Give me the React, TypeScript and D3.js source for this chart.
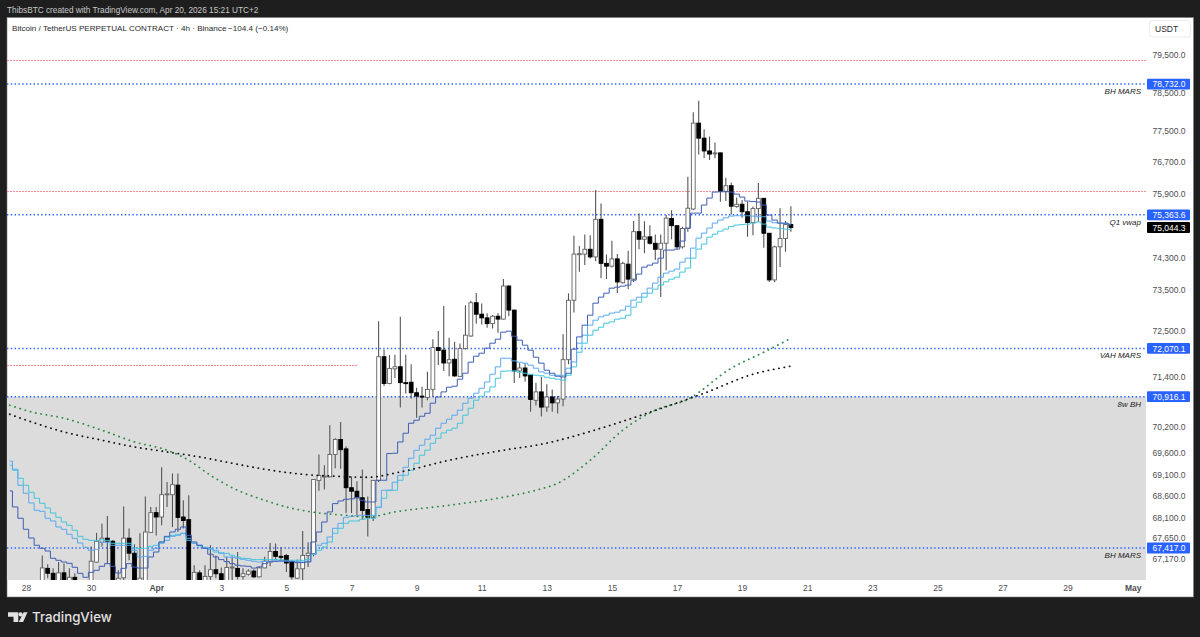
import React, { useEffect, useRef } from 'react';
import * as d3 from 'd3';

const W = 1200;
const H = 637;
const FONT = '"Liberation Sans", Arial, sans-serif';

// candles run from index 3 to 141, 4h each, index 0 is Mar 28 00:00
const FIRST_CANDLE = 3;
const FIRST_STEP = -3;

const opens = [
  66580, 66960, 66850, 66580, 66860, 66510, 66760, 66470, 66520,
  66580, 67100, 67550, 67640, 67570, 66580, 66750, 67640, 67300, 66500,
  66690, 67770, 68220, 68120, 68630, 68630, 68850, 68120, 68060, 66600,
  66860, 66580, 66780, 66930, 66840, 66580, 66970, 66960, 66780, 66830,
  66900, 66770, 66970, 67120, 67340, 67230, 67250, 67100, 66740, 66950,
  67250, 67290, 68960, 69050, 69040, 69560, 69910, 69690, 68790, 68710,
  68560, 68290, 68110, 68960, 71870, 71230, 71580, 71630, 71250, 71260,
  71010, 70930, 70900, 71090, 72090, 72030, 71720, 71810, 71400, 72070,
  72370, 73180, 72900, 72810, 72670, 72850, 72780, 73590, 73000, 71530,
  71600, 71430, 70830, 71030, 70670, 70910, 70770, 70860, 71800, 73240,
  74380, 74380, 74500, 74310, 75250, 74150, 74080, 74260, 73670, 74130,
  73760, 74940, 74750, 74810, 74650, 74500, 74650, 75270, 75090, 74560,
  75020, 75510, 77710, 77320, 76990, 76920, 76940, 75960, 76100, 75570,
  75630, 75440, 75170, 75520, 75780, 74900, 73740, 74560, 74770, 75120,
];
const closes = [
  66970, 66850, 66650, 66860, 66580, 66760, 66470, 66520, 66560,
  67120, 67570, 67640, 67570, 66560, 66740, 67640, 67300, 66600, 66740,
  67780, 68220, 68120, 68630, 68650, 68860, 68110, 68040, 66560, 66870,
  66580, 66780, 66930, 66840, 66580, 66980, 66990, 66780, 66840, 66900,
  66770, 66970, 67120, 67340, 67230, 67220, 67080, 66770, 66950, 67250,
  67300, 68980, 69070, 69060, 69560, 69910, 69670, 68790, 68710, 68560,
  68270, 68110, 68960, 71870, 71230, 71590, 71630, 71250, 71240, 71010,
  70930, 70920, 71090, 72090, 72020, 71720, 71800, 71410, 72070, 72390,
  73180, 72900, 72810, 72670, 72850, 72780, 73590, 73000, 71530, 71600,
  71410, 70850, 71030, 70670, 70910, 70770, 70860, 71800, 73240, 74380,
  74390, 74500, 74310, 75250, 74150, 74080, 74260, 73690, 74150, 73760,
  74940, 74750, 74810, 74650, 74500, 74650, 75280, 75090, 74560, 75020,
  75530, 77710, 77320, 76990, 76910, 76940, 75960, 76100, 75580, 75630,
  75440, 75170, 75520, 75780, 74900, 73740, 74560, 74770, 75120, 75044,
];
const highs = [
  67250, 67050, 66960, 67100, 67070, 66960, 66850, 66600, 66640,
  67450, 67760, 67970, 68140, 67600, 66920, 68360, 67860, 67500, 67750,
  68590, 68350, 68350, 69260, 68920, 69120, 69120, 68500, 68620, 67030,
  66920, 67030, 67480, 67250, 66980, 67220, 67230, 67330, 66960, 66940,
  66940, 67010, 67220, 67530, 67520, 67440, 67280, 67140, 67160, 67800,
  67550, 68990, 69560, 69310, 70240, 69940, 70320, 69750, 69050, 68940,
  69210, 68590, 68970, 72730, 72040, 71910, 71920, 72840, 71920, 71690,
  71130, 71150, 71510, 72290, 72490, 73100, 72330, 72230, 72190, 73120,
  73230, 73420, 73160, 72920, 72880, 72920, 73760, 73610, 73010, 71720,
  71720, 71440, 71250, 71390, 71210, 71090, 70930, 72410, 73410, 74840,
  74580, 74870, 74850, 75990, 75650, 74370, 74710, 74380, 74190, 74460,
  75210, 75400, 75200, 75100, 74870, 74870, 75360, 75480, 75100, 75060,
  76330, 77990, 78290, 77550, 77360, 77210, 76950, 76300, 76180, 75800,
  75740, 75690, 75570, 76170, 75790, 74905, 74590, 75530, 75210, 75580,
];
const lows = [
  66470, 66740, 66560, 66470, 66500, 66400, 66380, 66300, 66350,
  66480, 67090, 67450, 67070, 66480, 66500, 66670, 67140, 66500, 66450,
  66600, 67760, 67700, 67930, 68350, 67890, 67780, 67860, 66470, 66500,
  66500, 66500, 66650, 66740, 66500, 66500, 66690, 66710, 66710, 66800,
  66750, 66760, 66960, 67010, 67140, 67140, 66880, 66710, 66730, 66670,
  66990, 67230, 68720, 68750, 69030, 69240, 69230, 68210, 68210, 68160,
  68050, 67680, 68030, 68920, 71170, 71210, 71360, 70660, 70990, 70870,
  70420, 70660, 70830, 70910, 71670, 71530, 71400, 71390, 71390, 72040,
  72350, 72670, 72650, 72570, 72550, 72450, 72770, 72850, 71240, 71360,
  71280, 70560, 70710, 70450, 70560, 70560, 70520, 70690, 71690, 72940,
  73940, 74110, 74270, 74200, 73780, 73760, 74050, 73420, 73650, 73510,
  73690, 74500, 74400, 74620, 74230, 73320, 73980, 74750, 74500, 74520,
  74940, 75480, 76900, 76810, 76760, 76800, 75690, 75710, 75370, 75540,
  75290, 74810, 74850, 75190, 74540, 73690, 73680, 74060, 74440, 74940,
];

// step lines, one value per candle from index -3 to 141
const stepDark = [
  68716, 68349, 68091, 67841, 67643, 67479, 67411, 67350, 67186, 67141, 67103, 67073, 66984,
  66849, 66760, 66871, 66916, 67006, 67066, 67006, 66856, 66961, 67066, 66990, 66967,
  66967, 67215, 67327, 67553, 67681, 67779, 67841, 67893, 67704, 67553,
  67479, 67411, 67276, 67215, 67156, 67112, 67066, 67029, 67013, 67006,
  66967, 66990, 67066, 67103, 67118, 67125, 67125, 67112, 67089, 67089,
  67103, 67553, 67779, 68006, 68235, 68426, 68486, 68525, 68532, 68564,
  68502, 68463, 68463, 68962, 68962, 69581, 69588, 69851, 70055, 70290,
  70360, 70454, 70525, 70762, 70911, 71030, 71141, 71165, 71332, 71475,
  71739, 71883, 71955, 72076, 72197, 72293, 72463, 72487, 72366, 72269,
  72148, 72028, 71859, 71715, 71547, 71475, 71403, 71387, 71475, 72052,
  72349, 72633, 72876, 73169, 73316, 73414, 73537, 73562, 73587, 73612,
  73735, 73883, 74056, 74106, 74156, 74279, 74479, 74479, 74504, 74704,
  75030, 75406, 75406, 75609, 75786, 75938, 75946, 75946, 75938, 75887,
  75811, 75710, 75697, 75685, 75609, 75356, 75231, 75155, 75155, 75105,
];
const stepLight = [
  69402, 69216, 68847, 68663, 68440, 68273, 68250, 68091, 68029, 67893, 67841, 67727, 67636,
  67530, 67433, 67366, 67388, 67546, 67546, 67479, 67479, 67479, 67479, 67366, 67215,
  67231, 67366, 67411, 67524, 67591, 67681, 67704, 67749, 67636, 67524,
  67479, 67417, 67388, 67366, 67298, 67215, 67208, 67186, 67163, 67141,
  67118, 67103, 67118, 67118, 67125, 67125, 67125, 67118, 67107, 67103,
  67118, 67276, 67479, 67524, 67666, 67863, 67977, 68113, 68136, 68148,
  68159, 68159, 68159, 68342, 68732, 68732, 68916, 69077, 69263, 69471,
  69658, 69775, 69915, 70008, 70173, 70290, 70384, 70478, 70596, 70762,
  70880, 70998, 71117, 71267, 71451, 71627, 71835, 71835, 71770, 71739,
  71715, 71667, 71595, 71506, 71475, 71427, 71427, 71427, 71595, 71746,
  72197, 72390, 72633, 72754, 72835, 72876, 72925, 72949, 72998, 73096,
  73243, 73316, 73414, 73537, 73661, 73808, 73908, 73957, 74007, 74180,
  74279, 74529, 74778, 74903, 75030, 75155, 75231, 75288, 75331, 75339,
  75339, 75339, 75331, 75313, 75313, 75205, 75163, 75155, 75142, 75130,
];
const stepCyan = [
  69309, 69193, 69008, 68847, 68686, 68548, 68433, 68326, 68212, 68113, 68006, 67931, 67818,
  67681, 67614, 67591, 67591, 67602, 67591, 67524, 67524, 67524, 67524, 67417, 67404,
  67411, 67456, 67479, 67553, 67659, 67704, 67727, 67749, 67591, 67524,
  67463, 67433, 67404, 67327, 67309, 67298, 67253, 67215, 67186, 67179,
  67156, 67156, 67156, 67156, 67156, 67152, 67141, 67141, 67141, 67141,
  67163, 67276, 67366, 67440, 67553, 67749, 67863, 67977, 68029, 68029,
  68068, 68091, 68091, 68342, 68548, 68732, 68732, 68962, 69077, 69193,
  69355, 69541, 69658, 69821, 69938, 70062, 70126, 70173, 70290, 70478,
  70644, 70833, 70927, 71030, 71149, 71356, 71523, 71530, 71530, 71499,
  71475, 71451, 71427, 71415, 71380, 71356, 71332, 71308, 71427, 71627,
  71979, 72197, 72390, 72511, 72584, 72681, 72713, 72779, 72803, 72876,
  73071, 73194, 73316, 73414, 73512, 73612, 73693, 73759, 73808, 73933,
  74032, 74279, 74504, 74629, 74803, 74878, 74953, 75004, 75067, 75105,
  75117, 75130, 75155, 75180, 75130, 75055, 75030, 75022, 75004, 74997,
];

// dotted averages, read at a few candles
const greenIdx = [-3, 1, 7, 14, 20, 26, 30, 34, 39, 44, 48, 54, 59, 63, 68, 78, 88, 94, 98, 104, 110, 116, 122, 130, 136, 141];
const greenVals = [70715, 70556, 70407, 70126, 69851, 69658, 69425, 69077, 68732, 68502, 68349, 68212, 68159, 68120, 68235, 68388, 68571, 68732, 68893, 69425, 70126, 70596, 70856, 71595, 71979, 72317];
const blackIdx = [-3, 1, 7, 14, 20, 26, 32, 38, 44, 51, 57, 63, 69, 78, 88, 95, 106, 115, 125, 134, 141];
const blackVals = [70502, 70321, 70085, 69891, 69735, 69618, 69502, 69355, 69216, 69100, 69054, 69031, 69154, 69425, 69658, 69798, 70173, 70549, 70998, 71451, 71643];

const priceTicks = [79500, 78500, 77500, 76700, 75900, 74300, 73500, 72500, 71400, 70200, 69600, 69100, 68600, 68100, 67650, 67170];
const dayTicks = [0, 2, 4, 6, 8, 10, 12, 14, 16, 18, 20, 22, 24, 26, 28, 30, 32, 34];

const blueLevels = [78732.0, 75363.6, 72070.1, 70916.1, 67417.0];
const redLevels = [79365, 75958];
const redShortLevel = 71675;
const redShortEnd = 61;
const zoneTop = 70916.1;
const lastPrice = 75044.3;

const notes = [
  { price: 78732.0, text: 'BH MARS' },
  { price: 75363.6, text: 'Q1 vwap' },
  { price: 72070.1, text: 'VAH MARS' },
  { price: 70916.1, text: '8w BH' },
  { price: 67417.0, text: 'BH MARS' },
];

const App: React.FC = () => {
  const svgRef = useRef<SVGSVGElement>(null);

  useEffect(() => {
    if (!svgRef.current) return;
    const svg = d3.select(svgRef.current);
    svg.selectAll('*').remove();

    const plot = { left: 7, right: 1146, top: 17.5, bottom: 580 };
    const frameRight = 1193.5;
    const frameBottom = 597;

    const start = Date.UTC(2026, 2, 28);
    const FOUR_H = 4 * 3600 * 1000;
    const DAY = 24 * 3600 * 1000;
    const t = (i: number) => new Date(start + i * FOUR_H);

    const x = d3.scaleUtc()
      .domain([t(0), t(204)])
      .range([26, 1132.7]);
    const y = d3.scaleLog()
      .domain([67170, 79500])
      .range([559, 55]);

    // frame
    svg.append('rect').attr('width', W).attr('height', H).attr('fill', '#1e1e1e');
    svg.append('rect')
      .attr('x', plot.left).attr('y', plot.top)
      .attr('width', frameRight - plot.left).attr('height', frameBottom - plot.top)
      .attr('fill', '#ffffff')
      .attr('stroke', '#7a7a7a')
      .attr('stroke-width', 0.6);

    svg.append('text')
      .attr('x', 7).attr('y', 13.2)
      .attr('fill', '#c9c9c9').attr('font-size', 8.25)
      .text('ThibsBTC created with TradingView.com, Apr 20, 2026 15:21 UTC+2');

    const defs = svg.append('defs');
    defs.append('clipPath').attr('id', 'plot-clip').append('rect')
      .attr('x', plot.left).attr('y', plot.top)
      .attr('width', plot.right - plot.left).attr('height', plot.bottom - plot.top);

    const g = svg.append('g').attr('clip-path', 'url(#plot-clip)');

    // grey zone below the 8w BH
    g.append('rect')
      .attr('x', plot.left).attr('y', y(zoneTop))
      .attr('width', plot.right - plot.left).attr('height', plot.bottom - y(zoneTop))
      .attr('fill', '#dcdcdc');

    // dotted red levels
    const redY = (p: number) => Math.round(y(p)) + 0.5;
    redLevels.forEach(p => {
      g.append('line')
        .attr('x1', plot.left).attr('x2', plot.right)
        .attr('y1', redY(p)).attr('y2', redY(p))
        .attr('stroke', '#f58a90').attr('stroke-width', 1)
        .attr('stroke-dasharray', '2 1');
    });
    g.append('line')
      .attr('x1', plot.left).attr('x2', x(t(redShortEnd)))
      .attr('y1', redY(redShortLevel)).attr('y2', redY(redShortLevel))
      .attr('stroke', '#f58a90').attr('stroke-width', 1)
      .attr('stroke-dasharray', '2 1');

    // dotted blue levels
    blueLevels.forEach(p => {
      g.append('line')
        .attr('x1', plot.left).attr('x2', plot.right)
        .attr('y1', y(p)).attr('y2', y(p))
        .attr('stroke', '#2962ff').attr('stroke-width', 1.4)
        .attr('stroke-dasharray', '1.4 2.4');
    });

    // candles
    const candles = opens.map((o, i) => ({
      i: i + FIRST_CANDLE, o, c: closes[i], h: highs[i], l: lows[i],
    }));
    const bodyW = 3.8;

    const candle = g.append('g').selectAll('g').data(candles).join('g');
    candle.append('line')
      .attr('x1', d => x(t(d.i))).attr('x2', d => x(t(d.i)))
      .attr('y1', d => y(d.h)).attr('y2', d => y(d.l))
      .attr('stroke', '#555555').attr('stroke-width', 1.1);
    candle.append('rect')
      .attr('x', d => x(t(d.i)) - bodyW / 2)
      .attr('width', bodyW)
      .attr('y', d => y(Math.max(d.o, d.c)))
      .attr('height', d => Math.max(1, Math.abs(y(d.o) - y(d.c))))
      .attr('fill', d => (d.c >= d.o ? '#ffffff' : '#000000'))
      .attr('stroke', d => (d.c >= d.o ? '#626262' : '#000000'))
      .attr('stroke-width', 0.9);

    // step lines
    const stepLine = d3.line<number>()
      .x((_, i) => x(t(i + FIRST_STEP)))
      .y(d => y(d))
      .curve(d3.curveStep);
    const steps: [number[], string][] = [
      [stepCyan, '#43c6dc'],
      [stepLight, '#5aa9f0'],
      [stepDark, '#3f5fb5'],
    ];
    steps.forEach(([vals, color]) => {
      g.append('path')
        .datum(vals)
        .attr('fill', 'none')
        .attr('stroke', color)
        .attr('stroke-width', 1)
        .attr('d', stepLine);
    });

    // dotted averages
    const dotted = d3.line<number>()
      .y(d => y(d))
      .curve(d3.curveMonotoneX);
    const averages: [number[], number[], string][] = [
      [greenIdx, greenVals, '#2f8a44'],
      [blackIdx, blackVals, '#111111'],
    ];
    averages.forEach(([idx, vals, color]) => {
      dotted.x((_, i) => x(t(idx[i])));
      g.append('path')
        .datum(vals)
        .attr('fill', 'none')
        .attr('stroke', color)
        .attr('stroke-width', 1.8)
        .attr('stroke-linecap', 'round')
        .attr('stroke-dasharray', '0.2 5.22')
        .attr('d', dotted);
    });

    // notes under the levels
    notes.forEach(n => {
      svg.append('text')
        .attr('x', 1141).attr('y', y(n.price) + 10)
        .attr('text-anchor', 'end')
        .attr('font-size', 8)
        .attr('font-style', 'italic')
        .attr('fill', '#222222')
        .text(n.text);
    });

    // price axis
    const yAxis = d3.axisRight(y)
      .tickValues(priceTicks)
      .tickSize(0)
      .tickPadding(0)
      .tickFormat(d => d3.format(',.1f')(d as number));
    const yG = svg.append('g')
      .attr('transform', 'translate(1152.5,0)')
      .call(yAxis);
    yG.select('.domain').remove();
    yG.selectAll('text')
      .attr('font-family', FONT)
      .attr('font-size', 8.5)
      .attr('fill', '#4e4e52');

    // time axis
    const xAxis = d3.axisBottom(x)
      .tickValues(dayTicks.map(d => new Date(start + d * DAY)))
      .tickSize(0)
      .tickPadding(0)
      .tickFormat(d => {
        const date = d as Date;
        if (date.getUTCDate() === 1) return date.getUTCMonth() === 3 ? 'Apr' : 'May';
        return String(date.getUTCDate());
      });
    const xG = svg.append('g')
      .attr('transform', 'translate(0,585)')
      .call(xAxis);
    xG.select('.domain').remove();
    xG.selectAll('text')
      .attr('font-family', FONT)
      .attr('font-size', 8.5)
      .attr('fill', '#4e4e52')
      .attr('font-weight', (d: any) => ((d as Date).getUTCDate() === 1 ? 700 : 400));

    // price tags on the scale
    const tag = (p: number, fill: string) => {
      svg.append('rect')
        .attr('x', 1147).attr('y', y(p) - 5.4)
        .attr('width', 43).attr('height', 10.8)
        .attr('rx', 1)
        .attr('fill', fill);
      svg.append('text')
        .attr('x', 1152.5).attr('y', y(p) + 3.1)
        .attr('font-size', 8.5)
        .attr('fill', '#ffffff')
        .text(d3.format(',.1f')(p));
    };
    blueLevels.forEach(p => tag(p, '#2962ff'));
    tag(lastPrice, '#000000');

    // currency button
    svg.append('rect')
      .attr('x', 1149.5).attr('y', 20.5)
      .attr('width', 41).attr('height', 16.5)
      .attr('rx', 2.5)
      .attr('fill', '#ffffff')
      .attr('stroke', '#ececec');
    svg.append('text')
      .attr('x', 1155).attr('y', 31.7)
      .attr('font-size', 8.5)
      .attr('fill', '#2a2a2e')
      .text('USDT');

    // legend
    svg.append('text')
      .attr('x', 12).attr('y', 31)
      .attr('font-size', 8.1)
      .attr('fill', '#2a2a2e')
      .text('Bitcoin / TetherUS PERPETUAL CONTRACT · 4h · Binance');
    svg.append('text')
      .attr('x', 228).attr('y', 31)
      .attr('font-size', 8.1)
      .attr('fill', '#2a2a2e')
      .text('−104.4 (−0.14%)');

    // TradingView mark
    const logo = svg.append('g').attr('fill', '#e2e2e2');
    logo.append('path').attr('d', 'M8 612.3h10.3v9.6h-4.8v-5.2H8z');
    logo.append('circle').attr('cx', 20.6).attr('cy', 614.4).attr('r', 2.1);
    logo.append('path').attr('d', 'M23.6 612.3h3.9l-4.4 9.6h-4.3z');
    svg.append('text')
      .attr('x', 32).attr('y', 622.3)
      .attr('font-family', 'Inter, sans-serif')
      .attr('font-size', 13.3)
      .attr('font-weight', 500)
      .attr('fill', '#e2e2e2')
      .text('TradingView');
  }, []);

  return (
    <svg
      ref={svgRef}
      width={W}
      height={H}
      viewBox={`0 0 ${W} ${H}`}
      fontFamily={FONT}
      style={{ position: 'fixed', left: 0, top: 0, display: 'block' }}
    />
  );
};

export default App;
